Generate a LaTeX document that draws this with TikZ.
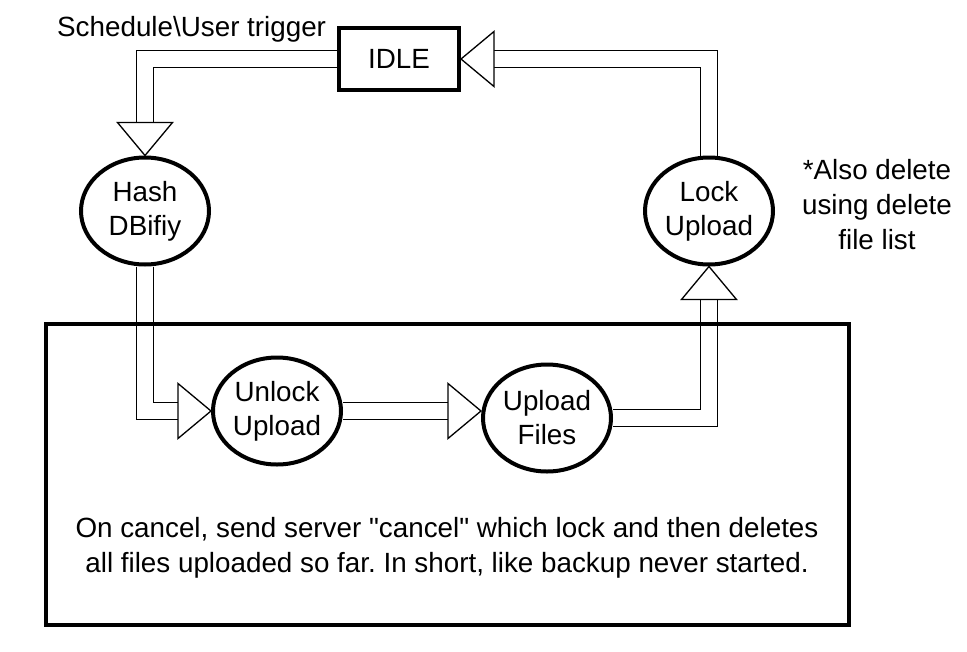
\documentclass[tikz,border=0pt]{standalone}
\usepackage{fontspec}
\setmainfont{Liberation Sans}
\newfontfamily\labelfont{Liberation Sans}
\frenchspacing
\usetikzlibrary{arrows.meta,positioning,shapes.geometric,backgrounds,calc}
\tikzset{
  statenode/.style={ellipse, draw, line width=4pt, minimum width=128pt, minimum height=107pt,
    inner sep=0pt, align=center, font=\labelfont\fontsize{27.8}{34}\selectfont},
  idlebox/.style={draw, line width=4pt, minimum width=120pt, minimum height=62pt,
    font=\labelfont\fontsize{27.8}{34}\selectfont},
  framebox/.style={draw, line width=4pt, minimum width=803pt, minimum height=301pt},
  plaintext/.style={align=center, inner sep=0pt, font=\labelfont\fontsize{27.8}{35}\selectfont},
  flow/.style={draw, line width=1.3pt, double=white, double distance=16pt},
  headshape/.style={draw, fill=white, line width=1.3pt, line join=miter},
}

\begin{document}
\begin{tikzpicture}[x=1pt, y=-1pt]
  \useasboundingbox (0,0) rectangle (967,651);

  \node[idlebox]   (idle)   at (399,59)  {IDLE};
  \node[statenode] (hash)   at (145,211) {Hash\\DBifiy};
  \node[statenode] (lock)   at (709,211) {Lock\\Upload};
  \node[statenode] (unlock) at (277,411) {Unlock\\Upload};
  \node[statenode] (files)  at (547,418) {Upload\\Files};

  \coordinate (hashin)   at ($(hash.north)+(0,-33)$);
  \coordinate (unlockin) at ($(unlock.west)+(-33,0)$);
  \coordinate (filestip) at (unlock.east -| files.west);
  \coordinate (filesin)  at ($(filestip)+(-33,0)$);
  \coordinate (lockin)   at ($(lock.south)+(0,33)$);
  \coordinate (idlein)   at ($(idle.east)+(33,0)$);

  % hollow arrows behind the nodes
  \begin{scope}[on background layer]
    \draw[flow] (idle.west) -| (hashin);
    \draw[flow] (hash.south) |- (unlockin);
    \draw[flow] (unlock.east) -- (filesin);
    \draw[flow] (files.east) -| (lockin);
    \draw[flow] (lock.north) |- (idlein);
    \draw[headshape] (hash.north) -- ++(-27.5,-33) -- ++(55,0) -- cycle;
    \draw[headshape] (unlock.west) -- ++(-33,-27.5) -- ++(0,55) -- cycle;
    \draw[headshape] (filestip) -- ++(-33,-27.5) -- ++(0,55) -- cycle;
    \draw[headshape] (lock.south) -- ++(-27.5,33) -- ++(55,0) -- cycle;
    \draw[headshape] (idle.east) -- ++(33,-27.5) -- ++(0,55) -- cycle;
  \end{scope}

  \node[framebox] (cancelbox) at (447.5,474.5) {};
  \node[plaintext] (note) at (447,548)
    {On cancel, send server "cancel" which lock and then deletes\\all files uploaded so far. In short, like backup never started.};
  \node[plaintext, anchor=west] (trigger) at (57,29) {Schedule\textbackslash User trigger};
  \node[plaintext] (alsonote) at (877,205) {*Also delete\\using delete\\file list};
\end{tikzpicture}
\end{document}
